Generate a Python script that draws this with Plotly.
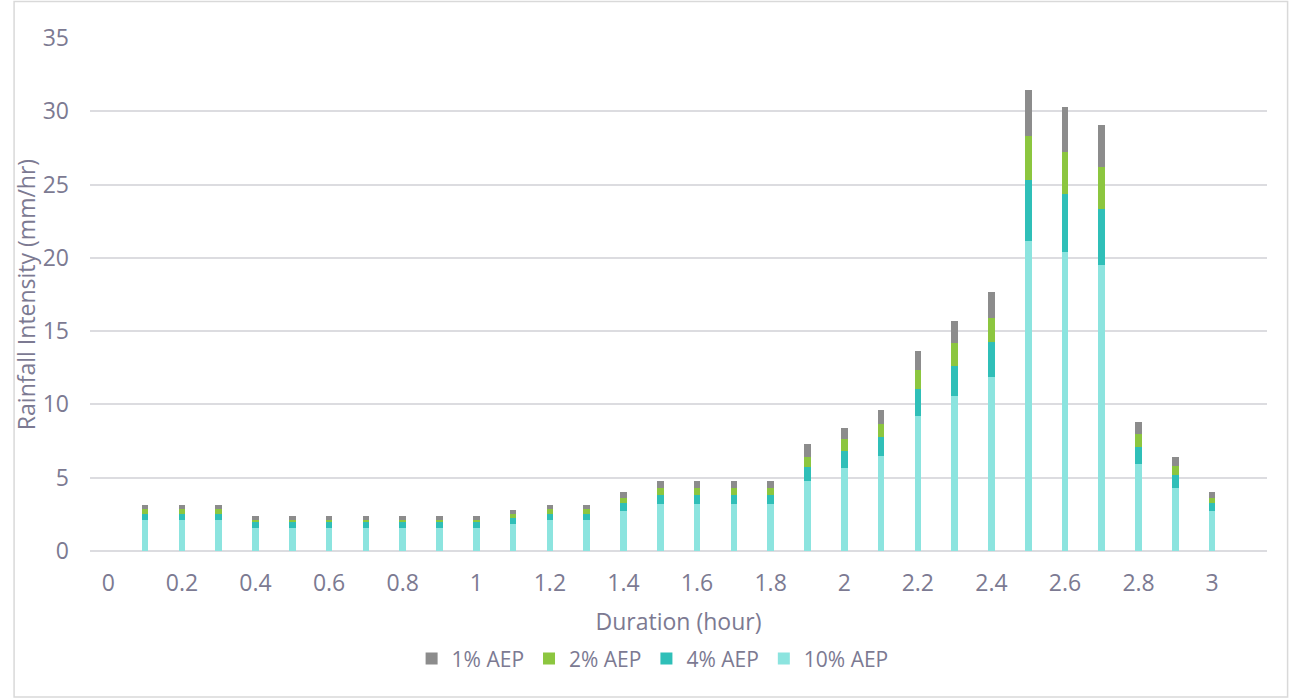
import plotly.graph_objects as go

# Storm durations (hours)
duration = [round(0.1 * i, 1) for i in range(1, 31)]

# Stacked increments of rainfall intensity (mm/hr) per AEP band
aep_10 = [2.09, 2.09, 2.09, 1.57, 1.57, 1.57, 1.57, 1.57, 1.57, 1.57,
          1.82, 2.09, 2.09, 2.70, 3.23, 3.23, 3.23, 3.23, 4.80, 5.68,
          6.48, 9.21, 10.58, 11.89, 21.17, 20.40, 19.54, 5.96, 4.30, 2.70]
aep_4 = [0.45, 0.45, 0.45, 0.39, 0.39, 0.39, 0.39, 0.39, 0.39, 0.39,
         0.45, 0.45, 0.45, 0.55, 0.59, 0.59, 0.59, 0.59, 0.95, 1.13,
         1.30, 1.82, 2.02, 2.37, 4.12, 3.94, 3.82, 1.11, 0.86, 0.55]
aep_2 = [0.35, 0.35, 0.35, 0.18, 0.18, 0.18, 0.18, 0.18, 0.18, 0.18,
         0.28, 0.35, 0.35, 0.35, 0.46, 0.46, 0.46, 0.46, 0.69, 0.80,
         0.88, 1.30, 1.57, 1.66, 3.05, 2.88, 2.82, 0.89, 0.62, 0.35]
aep_1 = [0.25, 0.25, 0.25, 0.23, 0.23, 0.23, 0.23, 0.23, 0.23, 0.23,
         0.25, 0.25, 0.25, 0.40, 0.52, 0.52, 0.52, 0.52, 0.84, 0.78,
         0.96, 1.32, 1.50, 1.75, 3.09, 3.05, 2.86, 0.86, 0.61, 0.40]

x_ticks = [round(0.2 * i, 1) for i in range(16)]
x_tick_text = ["0", "0.2", "0.4", "0.6", "0.8", "1", "1.2", "1.4",
               "1.6", "1.8", "2", "2.2", "2.4", "2.6", "2.8", "3"]
y_ticks = [0, 5, 10, 15, 20, 25, 30, 35]

series = [
    ("10% AEP", aep_10, "#8ce4df"),
    ("4% AEP", aep_4, "#2fbfb8"),
    ("2% AEP", aep_2, "#8cc63f"),
    ("1% AEP", aep_1, "#8c8c8c"),
]

TEXT = "#7c7a92"
FONT = "Open Sans"

fig = go.Figure()
for name, vals, color in series:
    fig.add_trace(go.Bar(
        x=duration, y=vals, name=name, width=0.018,
        marker=dict(color=color, line=dict(width=0)),
    ))

fig.update_layout(
    barmode="stack",
    width=1292, height=698,
    margin=dict(l=90, r=25, t=38, b=147),
    paper_bgcolor="white", plot_bgcolor="white",
    font=dict(family=FONT, color=TEXT, size=21),
    showlegend=True,
    legend=dict(
        orientation="h", traceorder="reversed",
        x=0.478, xanchor="center", y=-0.21, yanchor="middle",
        font=dict(size=21, color=TEXT), itemwidth=30,
    ),
    xaxis=dict(
        range=[-0.0498, 3.149],
        tickmode="array", tickvals=x_ticks, ticktext=x_tick_text,
        showgrid=False, zeroline=False, showline=False,
        ticks="", ticklabelstandoff=16,
        tickfont=dict(size=23, color=TEXT),
        title=dict(text="Duration (hour)", font=dict(size=23, color=TEXT), standoff=16),
    ),
    yaxis=dict(
        range=[0, 35],
        tickmode="array", tickvals=y_ticks,
        showgrid=True, gridcolor="#dcdce0", gridwidth=2,
        zeroline=True, zerolinecolor="#dcdce0", zerolinewidth=2,
        showline=False, ticks="", ticklabelstandoff=20,
        tickfont=dict(size=23, color=TEXT),
        title=dict(text="Rainfall Intensity (mm/hr)", font=dict(size=23, color=TEXT), standoff=0),
    ),
    shapes=[dict(
        type="rect", xref="paper", yref="paper",
        x0=-0.0645, x1=1.0175, y0=-0.2845, y1=1.071,
        line=dict(color="#d9d9d9", width=1.5), fillcolor="rgba(0,0,0,0)", layer="below",
    )],
)

fig.write_html("out.html")
